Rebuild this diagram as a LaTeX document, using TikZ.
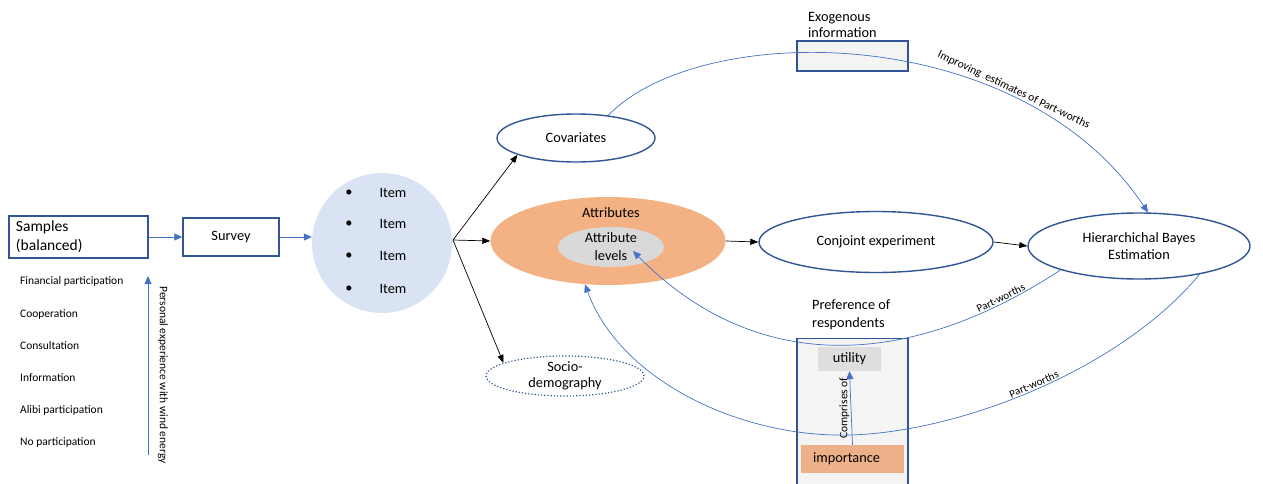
\documentclass[tikz,border=0pt]{standalone}
\usepackage{fontspec}
\setmainfont{Carlito}
\usetikzlibrary{arrows.meta,shapes.geometric,calc}
\definecolor{dblue}{HTML}{2F5597}
\definecolor{lblue}{HTML}{4472C4}
\definecolor{cfill}{HTML}{DAE3F3}
\definecolor{orng}{HTML}{F4B183}
\definecolor{orng2}{HTML}{EEB088}
\definecolor{lgray}{HTML}{D9D9D9}
\definecolor{ugray}{HTML}{DEDEDE}
\definecolor{bfill}{HTML}{F4F4F4}
\tikzset{
  fbig/.style={font=\fontsize{14.3}{17}\selectfont},
  fsam/.style={font=\fontsize{15.5}{19}\selectfont},
  fsmall/.style={font=\fontsize{11.5}{14}\selectfont},
  flab/.style={font=\fontsize{11}{13}\selectfont},
  boxnode/.style={draw=dblue, line width=1.4pt, inner sep=0pt},
  ellnode/.style={ellipse, draw=dblue, line width=1.4pt, inner sep=0pt, fbig, align=center},
  barrow/.style={lblue, line width=0.8pt, -{Triangle[length=8pt,width=7pt]}},
  karrow/.style={black, line width=0.7pt, -{Triangle[length=8pt,width=6pt]}},
  curvearrow/.style={lblue, line width=0.7pt, -{Triangle[length=8pt,width=7pt]}},
  curvelab/.style={sloped, above, text=black, inner sep=1.5pt},
}
\begin{document}
\begin{tikzpicture}[x=1pt,y=-1pt]
\useasboundingbox (0,0) rectangle (1263,484);

% left boxes
\node[boxnode, minimum width=139pt, minimum height=42pt, text width=125pt, align=left, fsam] (samples) at (78.5,237) {Samples\\(balanced)};
\node[boxnode, minimum width=96pt, minimum height=38pt, fbig] (survey) at (231,237) {Survey};

% left list
\foreach \t/\y/\n in {Financial participation/281/l1, Cooperation/314/l2, Consultation/346/l3, Information/378/l4, Alibi participation/410/l5, No participation/442/l6}
  \node[fsmall, anchor=west, inner sep=0pt] (\n) at (20,\y) {\t};
\coordinate (pe1) at (148,455);
\coordinate (pe2) at (148,276);
\draw[barrow] (pe1) -- (pe2);
\node[fsmall, rotate=-90, inner sep=0pt] (pelab) at (163,375) {Personal experience with wind energy};

% items circle
\node[circle, fill=cfill, minimum size=140pt, inner sep=0pt] (items) at (382,243) {};
\foreach \y/\n in {193/i1, 224/i2, 256/i3, 289/i4}{
  \node[fbig, inner sep=0pt] (\n) at (393,\y) {Item};
  \node[fbig, inner sep=0pt] (\n b) at (349,\y) {•};
}

\draw[barrow] (samples.east) -- (survey.west);
\draw[barrow] (survey.east) -- (survey.east -| items.west);

% middle ellipses
\node[ellnode, minimum width=158pt, minimum height=48pt] (cov) at (576,138) {Covariates};
\node[ellipse, fill=orng, minimum width=235pt, minimum height=88pt, inner sep=0pt] (attr) at (608,241) {};
\node[fbig, inner sep=0pt] (attrlab) at (611,213) {Attributes};
\node[ellipse, fill=lgray, minimum width=106pt, minimum height=40pt, inner sep=0pt, fbig, align=center, font=\fontsize{14.3}{18}\selectfont] (lev) at (611,247) {Attribute\\levels};
\node[ellipse, draw=dblue, line width=1.2pt, dotted, minimum width=158pt, minimum height=38pt, inner sep=0pt, align=center, font=\fontsize{14.3}{16}\selectfont] (socio) at (565,376) {Socio-\\demography};

\coordinate (br) at (453,240);
\draw[karrow] (br) -- (cov.196);
\draw[karrow] (br) -- (attr.west);
\draw[karrow] (br) -- (socio.168);

\node[ellnode, minimum width=234pt, minimum height=61pt] (conj) at (876,242) {Conjoint experiment};
\node[ellnode, minimum width=222pt, minimum height=66pt] (hb) at (1139,246) {Hierarchichal Bayes\\Estimation};
\draw[karrow] (attr.east) -- (conj.west);
\draw[karrow] (conj.east) -- (hb.west);

% exogenous box
\node[boxnode, fill=bfill, minimum width=111pt, minimum height=30pt] (exo) at (852.5,56) {};
\node[fbig, anchor=west, align=left, inner sep=0pt, font=\fontsize{14.3}{16.5}\selectfont] (exolab) at (808,25) {Exogenous\\information};

% preference box
\node[boxnode, fill=bfill, minimum width=111pt, minimum height=150pt, anchor=north] (pref) at (852.5,338) {};
\node[anchor=west, align=left, inner sep=0pt, font=\fontsize{14.3}{18}\selectfont] (preflab) at (812,315) {Preference of\\respondents};
\node[fill=ugray, minimum width=63pt, minimum height=24pt, inner sep=0pt, fbig] (util) at (849.5,359) {utility};
\node[fill=orng2, minimum width=103pt, minimum height=28pt, inner sep=0pt, fbig] (imp) at (852.5,459) {\hspace*{-12pt}importance};
\draw[barrow, line width=0.7pt] (imp.north) -- (util.south);
\node[fsmall, rotate=90, anchor=south, inner sep=1.5pt] (complab) at ($(imp.north)!0.5!(util.south)$) {Comprises of};

% curves
\draw[curvearrow] (cov.35) .. controls (700,20) and (1020,20) .. (hb.75)
  node[pos=0.73, curvelab, inner sep=2pt, fsmall] (implab) {Improving\ \ estimates of Part-worths};
\coordinate (levtip) at (633,251);
\draw[curvearrow] (hb.197) .. controls (900,375) and (750,370) .. (levtip)
  node[pos=0.12, curvelab, flab] (pw1) {Part-worths};
\coordinate (low) at (850,435);
\draw[curvearrow] (hb.335) .. controls (1120,370) and (960,432) .. (low)
  node[pos=0.5, curvelab, flab] (pw2) {Part-worths}
  .. controls (740,438) and (620,380) .. (attr.242);
\end{tikzpicture}
\end{document}
